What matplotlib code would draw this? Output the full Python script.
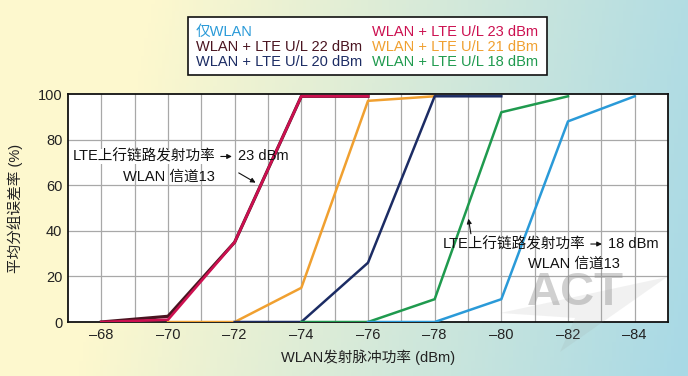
import numpy as np
import matplotlib
matplotlib.use("Agg")
import matplotlib.pyplot as plt
from matplotlib.patches import Polygon, Rectangle

plt.rcParams['font.family'] = ['Liberation Sans', 'Noto Sans CJK SC', 'DejaVu Sans']

# ---- data ----
x_ticks = [-68, -70, -72, -74, -76, -78, -80, -82, -84]
x_tick_labels = ['–68', '–70', '–72', '–74', '–76', '–78', '–80', '–82', '–84']
y_ticks = [0, 20, 40, 60, 80, 100]

wlan_only_x = [-76, -78, -80, -82, -84]
wlan_only_y = [0, 0, 10, 88, 99]

lte23_x = [-68, -70, -72, -74, -76]
lte23_y = [0, 1, 35, 99, 99]

lte22_x = [-68, -70, -72, -74, -76]
lte22_y = [0, 2.5, 35, 99, 99]

lte21_x = [-70, -72, -74, -76, -78]
lte21_y = [0, 0, 15, 97, 99]

lte20_x = [-72, -74, -76, -78, -80]
lte20_y = [0, 0, 26, 99, 99]

lte18_x = [-74, -76, -78, -80, -82]
lte18_y = [0, 0, 10, 92, 99]

legend_labels = ['仅WLAN', 'WLAN + LTE U/L 23 dBm',
                 'WLAN + LTE U/L 22 dBm', 'WLAN + LTE U/L 21 dBm',
                 'WLAN + LTE U/L 20 dBm', 'WLAN + LTE U/L 18 dBm']

c_wlan = '#2a9ad8'
c_23 = '#cc1050'
c_22 = '#4a1420'
c_21 = '#f0a030'
c_20 = '#1c2c64'
c_18 = '#1f9a4e'

fig = plt.figure(figsize=(6.88, 3.76), dpi=100)

# background gradient
bg = fig.add_axes([0, 0, 1, 1], zorder=-10)
nx, ny = 200, 100
gx = np.linspace(0, 1, nx)[None, :]
gy = np.linspace(0, 1, ny)[:, None]
t = np.clip(gx * 0.9 + gy * 0.1 - 0.05, 0, 1)  # row 0 = top
t = np.clip((t - 0.15) / 0.8, 0, 1)
c0 = np.array([253, 248, 206]) / 255.0
c1 = np.array([168, 217, 230]) / 255.0
img = c0[None, None, :] * (1 - t[..., None]) + c1[None, None, :] * t[..., None]
bg.imshow(img, aspect='auto', extent=[0, 1, 0, 1], origin='upper')
bg.set_xlim(0, 1); bg.set_ylim(0, 1)
bg.axis('off')

ax = fig.add_axes([68/688, 1 - 322/376, 600/688, 228/376])
ax.set_facecolor('white')

ax.set_xlim(-67, -85)
ax.set_ylim(0, 100)

# grid
for v in range(-68, -85, -1):
    ax.axvline(v, color='#a8a8a8', lw=0.9, zorder=1)
for v in [20, 40, 60, 80]:
    ax.axhline(v, color='#a8a8a8', lw=0.9, zorder=1)

lw = 1.8
ax.plot(lte22_x, lte22_y, color=c_22, lw=2.3, zorder=3)
ax.plot(lte23_x, lte23_y, color=c_23, lw=1.9, zorder=4)
ax.plot(lte21_x, lte21_y, color=c_21, lw=lw, zorder=3)
ax.plot(lte20_x, lte20_y, color=c_20, lw=lw, zorder=3)
ax.plot(lte18_x, lte18_y, color=c_18, lw=lw, zorder=3)
ax.plot(wlan_only_x, wlan_only_y, color=c_wlan, lw=lw, zorder=3)

ax.set_xticks(x_ticks)
ax.set_xticklabels(x_tick_labels)
ax.set_yticks(y_ticks)
ax.tick_params(length=0, labelsize=10.5, colors='#222222', pad=4)
for s in ax.spines.values():
    s.set_linewidth(1.3)
    s.set_color('#111111')

ax.set_xlabel('WLAN发射脉冲功率 (dBm)', fontsize=10.5, color='#222222', labelpad=6)
ax.set_ylabel('平均分组误差率 (%)', fontsize=10.5, color='#222222')
ax.yaxis.set_label_coords(-0.075, 0.5)

# annotations
ax.text(-67.15, 72.6, 'LTE上行链路发射功率', fontsize=10.5, ha='left', va='center', color='#111111', zorder=6,
        bbox=dict(facecolor='white', edgecolor='none', pad=0.5))
ax.annotate('', xy=(-72.0, 72.6), xytext=(-71.5, 72.6),
            arrowprops=dict(arrowstyle='-|>', color='#111111', lw=0.8, mutation_scale=7), zorder=6)
ax.text(-72.1, 72.6, '23 dBm', fontsize=10.5, ha='left', va='center', color='#111111', zorder=6)
ax.text(-68.65, 63.5, 'WLAN 信道13', fontsize=10.5, ha='left', va='center', color='#111111', zorder=6)
ax.annotate('', xy=(-72.7, 60.5), xytext=(-72.05, 66),
            arrowprops=dict(arrowstyle='-|>', color='#111111', lw=0.8, mutation_scale=7), zorder=6)

ax.text(-78.25, 34.2, 'LTE上行链路发射功率', fontsize=10.5, ha='left', va='center', color='#111111', zorder=6)
ax.annotate('', xy=(-83.1, 34.2), xytext=(-82.6, 34.2),
            arrowprops=dict(arrowstyle='-|>', color='#111111', lw=0.8, mutation_scale=7), zorder=6)
ax.text(-83.2, 34.2, '18 dBm', fontsize=10.5, ha='left', va='center', color='#111111', zorder=6)
ax.text(-80.8, 25.6, 'WLAN 信道13', fontsize=10.5, ha='left', va='center', color='#111111', zorder=6)
ax.annotate('', xy=(-79.0, 46.5), xytext=(-79.1, 37.5),
            arrowprops=dict(arrowstyle='-|>', color='#111111', lw=0.8, mutation_scale=7), zorder=6)

# watermark
wm_tri = Polygon([(500/688, 1 - 313/376), (667/688, 1 - 277/376), (560/688, 1 - 352/376),
                  (575/688, 1 - 318/376)],
                 closed=True, transform=fig.transFigure, facecolor='#9a9a9a', alpha=0.13,
                 edgecolor='none', zorder=20)
fig.add_artist(wm_tri)
fig.text(575/688, 1 - 293/376, 'ACT', fontsize=34, fontweight='bold', color='#8a8a8a', alpha=0.4,
         ha='center', va='center', zorder=21, family='Liberation Sans')

# legend box
fig.add_artist(Rectangle((188/688, 1 - 75/376), 359/688, 58/376, transform=fig.transFigure,
                         facecolor='white', edgecolor='#111111', lw=1.2, zorder=5))
leg_colors = [c_wlan, c_23, c_22, c_21, c_20, c_18]
col_x = [196/688, 372/688]
row_y = [1 - 32/376, 1 - 47/376, 1 - 62/376]
for i, (lab, col) in enumerate(zip(legend_labels, leg_colors)):
    fig.text(col_x[i % 2], row_y[i // 2], lab, fontsize=10.5, color=col, ha='left', va='center', zorder=6)

fig.savefig('out.png', dpi=100)
